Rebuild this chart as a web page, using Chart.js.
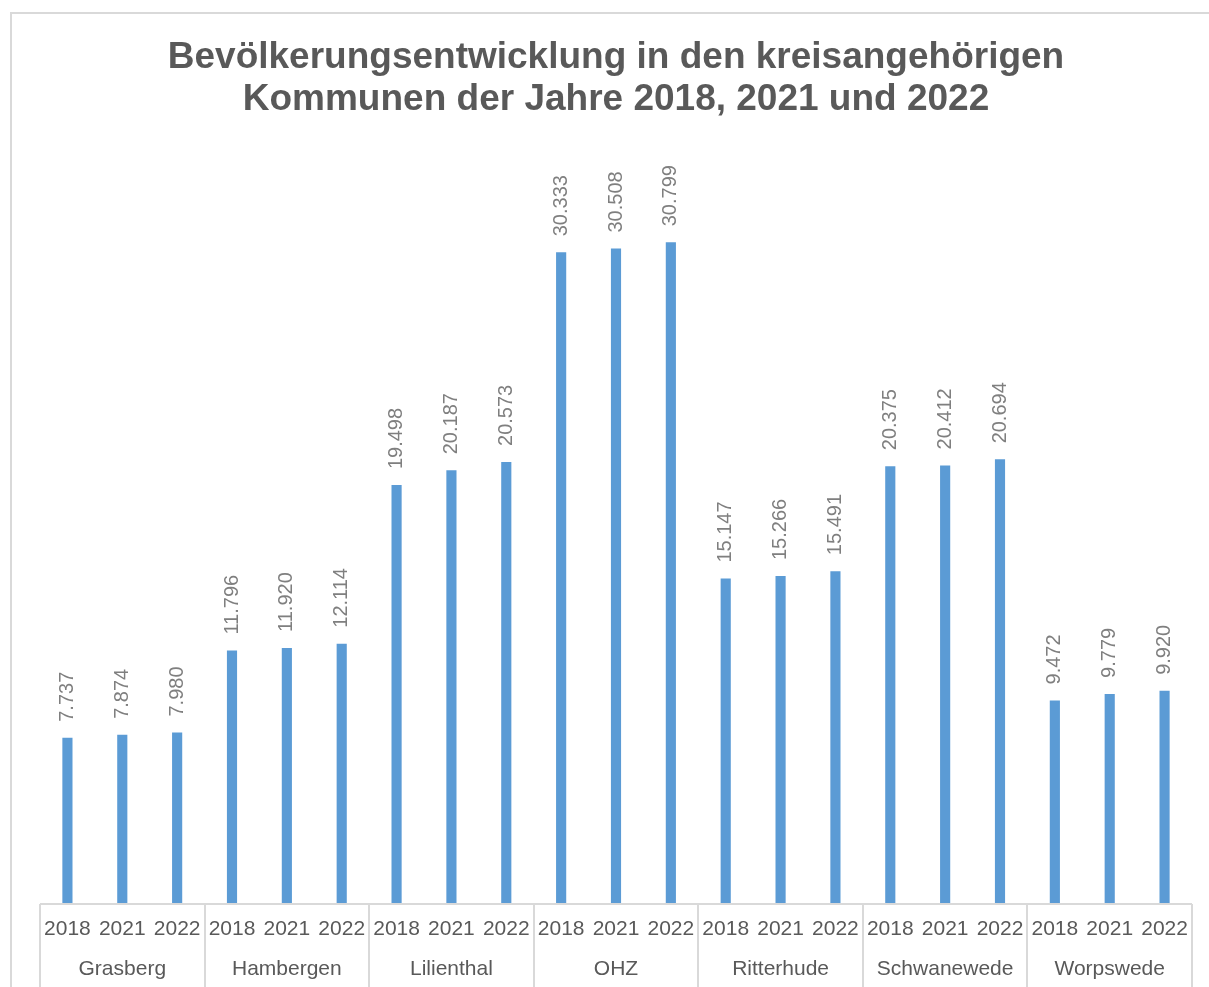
<!DOCTYPE html>
<html>
<head>
<meta charset="utf-8">
<script src="https://cdn.jsdelivr.net/npm/chart.js@4"></script>
<style>
  html, body { margin: 0; padding: 0; background: #fff; }
  #wrap { width: 1209px; height: 987px; }
</style>
</head>
<body>
<div id="wrap"><canvas id="chart" width="1209" height="987"></canvas></div>
<script>
const communes = ['Grasberg', 'Hambergen', 'Lilienthal', 'OHZ', 'Ritterhude', 'Schwanewede', 'Worpswede'];
const years = ['2018', '2021', '2022'];
const pop2018 = [7737, 11796, 19498, 30333, 15147, 20375, 9472];
const pop2021 = [7874, 11920, 20187, 30508, 15266, 20412, 9779];
const pop2022 = [7980, 12114, 20573, 30799, 15491, 20694, 9920];

// one bar per commune and year, in axis order
const series = [pop2018, pop2021, pop2022];
const labels = [];
const values = [];
communes.forEach((c, i) => {
  years.forEach((y, j) => {
    labels.push(y);
    values.push(series[j][i]);
  });
});

const grey = '#595959';
const lineGrey = '#d9d9d9';
const font = '"Liberation Sans", Arial, sans-serif';

// frame, axis line, group separators and commune names
const groupAxis = {
  id: 'groupAxis',
  beforeDraw(chart) {
    const ctx = chart.ctx;
    ctx.save();
    ctx.fillStyle = lineGrey;
    ctx.fillRect(10, 12, 2, chart.height);
    ctx.fillRect(10, 12, chart.width, 2);
    ctx.restore();
  },
  afterDraw(chart) {
    const ctx = chart.ctx;
    const x = chart.scales.x;
    const area = chart.chartArea;
    const step = x.getPixelForValue(1) - x.getPixelForValue(0);
    ctx.save();
    ctx.strokeStyle = lineGrey;
    ctx.lineWidth = 2;
    ctx.beginPath();
    ctx.moveTo(area.left, area.bottom);
    ctx.lineTo(area.right, area.bottom);
    for (let g = 0; g <= communes.length; g++) {
      const px = Math.round(x.getPixelForValue(g * years.length) - step / 2);
      ctx.moveTo(px, area.bottom);
      ctx.lineTo(px, chart.height);
    }
    ctx.stroke();
    ctx.fillStyle = grey;
    ctx.font = '21px ' + font;
    ctx.textAlign = 'center';
    ctx.textBaseline = 'middle';
    communes.forEach((name, g) => {
      const mid = x.getPixelForValue(g * years.length + 1);
      ctx.fillText(name, mid, area.bottom + 65);
    });
    ctx.restore();
  }
};

// vertical value labels above the bars
const barLabels = {
  id: 'barLabels',
  afterDatasetsDraw(chart) {
    const ctx = chart.ctx;
    const meta = chart.getDatasetMeta(0);
    ctx.save();
    ctx.fillStyle = '#7f7f7f';
    ctx.font = '20px ' + font;
    ctx.textAlign = 'left';
    ctx.textBaseline = 'middle';
    meta.data.forEach((bar, i) => {
      ctx.save();
      ctx.translate(bar.x, bar.y - 16);
      ctx.rotate(-Math.PI / 2);
      ctx.fillText(values[i].toLocaleString('de-DE'), 0, 0);
      ctx.restore();
    });
    ctx.restore();
  }
};

new Chart(document.getElementById('chart'), {
  type: 'bar',
  data: {
    labels: labels,
    datasets: [{
      data: values,
      backgroundColor: '#5b9bd5',
      barPercentage: 0.185,
      categoryPercentage: 1
    }]
  },
  options: {
    responsive: false,
    animation: false,
    layout: { padding: { left: 40, right: 17, top: 0, bottom: 0 } },
    plugins: {
      legend: { display: false },
      tooltip: { enabled: false },
      title: {
        display: true,
        text: ['Bevölkerungsentwicklung in den kreisangehörigen', 'Kommunen der Jahre 2018, 2021 und 2022'],
        color: grey,
        font: { family: font, size: 37, weight: 'bold', lineHeight: '42px' },
        padding: { top: 37, bottom: 31 }
      }
    },
    scales: {
      x: {
        grid: { display: false, drawTicks: false },
        border: { display: false },
        ticks: {
          color: grey,
          font: { family: font, size: 21 },
          padding: 13,
          maxRotation: 0,
          autoSkip: false
        },
        afterFit(scale) { scale.height = 83; }
      },
      y: {
        display: false,
        min: 0,
        max: 35000
      }
    }
  },
  plugins: [groupAxis, barLabels]
});
</script>
</body>
</html>
